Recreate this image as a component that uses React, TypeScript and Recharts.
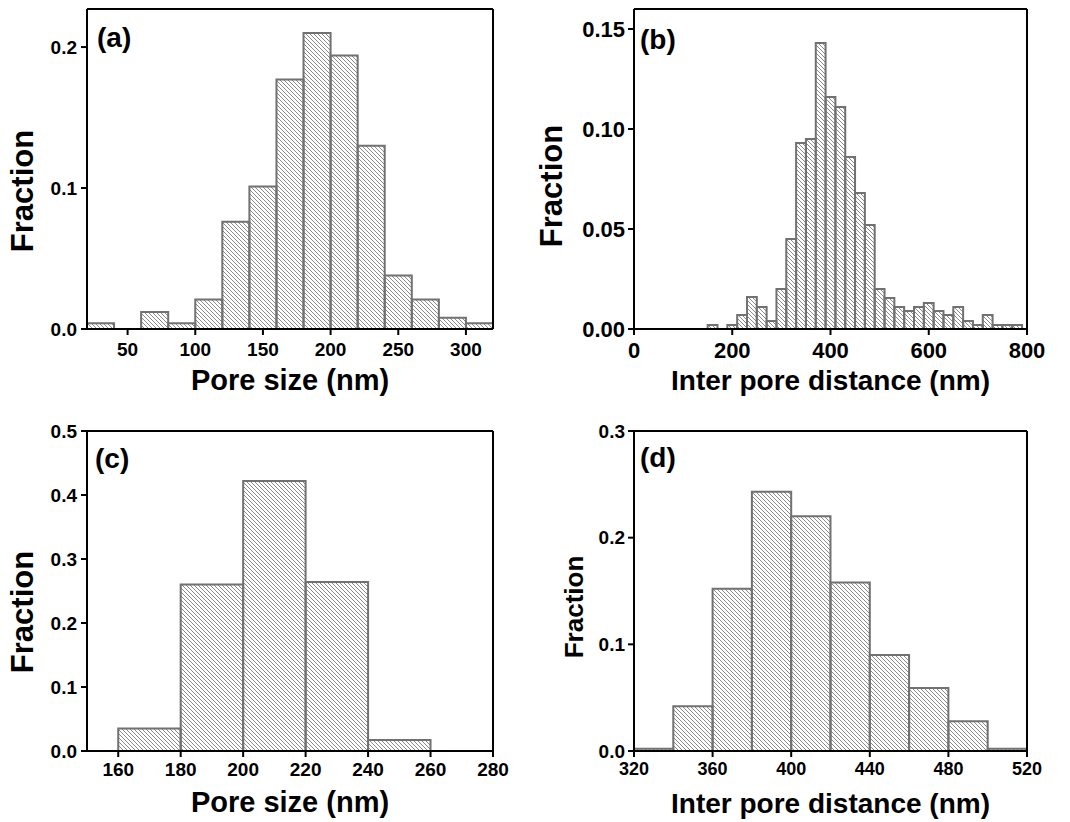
import React from 'react';
import { BarChart, Bar, XAxis, YAxis } from 'recharts';

// ---------- data ----------
// (a) pore size histogram, bin centres (nm), 20 nm bins
const poreBinsA = [30, 50, 70, 90, 110, 130, 150, 170, 190, 210, 230, 250, 270, 290, 310];
const poreFracA = [0.004, 0, 0.012, 0.004, 0.021, 0.076, 0.101, 0.177, 0.21, 0.194, 0.13, 0.038, 0.021, 0.008, 0.004];
const xTicksA = [50, 100, 150, 200, 250, 300];
const yTicksA = [0, 0.1, 0.2];

// (b) inter pore distance histogram, bin centres (nm), 20 nm bins
const distBinsB = [160, 180, 200, 220, 240, 260, 280, 300, 320, 340, 360, 380, 400, 420, 440, 460, 480, 500, 520, 540, 560, 580, 600, 620, 640, 660, 680, 700, 720, 740, 760, 780];
const distFracB = [0.002, 0, 0.002, 0.007, 0.016, 0.011, 0.004, 0.02, 0.045, 0.093, 0.095, 0.143, 0.116, 0.111, 0.086, 0.068, 0.052, 0.02, 0.0155, 0.011, 0.009, 0.011, 0.013, 0.009, 0.007, 0.011, 0.004, 0.002, 0.007, 0.002, 0.002, 0.002];
const xTicksB = [0, 200, 400, 600, 800];
const yTicksB = [0, 0.05, 0.1, 0.15];

// (c) pore size histogram
const poreBinsC = [170, 190, 210, 230, 250];
const poreFracC = [0.035, 0.26, 0.422, 0.264, 0.017];
const xTicksC = [160, 180, 200, 220, 240, 260, 280];
const yTicksC = [0, 0.1, 0.2, 0.3, 0.4, 0.5];

// (d) inter pore distance histogram
const distBinsD = [330, 350, 370, 390, 410, 430, 450, 470, 490, 510];
const distFracD = [0.002, 0.042, 0.152, 0.243, 0.22, 0.158, 0.09, 0.059, 0.028, 0.002];
const xTicksD = [320, 360, 400, 440, 480, 520];
const yTicksD = [0, 0.1, 0.2, 0.3];

const FONT = "'Liberation Sans', Arial, Helvetica, sans-serif";

type PanelCfg = {
  id: string;
  left: number;
  top: number;
  w: number;
  h: number;
  plot: { l: number; t: number; r: number; b: number };
  yAxisW: number;
  bins: number[];
  fr: number[];
  binWidth: number;
  xDomain: [number, number];
  yMax: number;
  xTicks: number[];
  yTicks: number[];
  yDec: number;
  xTickFont: number;
  yTickFont: number;
  xTickMargin: number;
  yTickMargin: number;
  label: string;
  labelX: number;
  labelY: number;
  labelSize: number;
  yTitleX: number;
  yTitleY: number;
  yTitleSize: number;
  xTitle: string;
  xTitleY: number;
  xTitleSize: number;
  rightTicks?: number[];
};

const panels: PanelCfg[] = [
  {
    id: 'a', left: 0, top: 0, w: 535, h: 411,
    plot: { l: 87, t: 9, r: 493, b: 329 }, yAxisW: 77,
    bins: poreBinsA, fr: poreFracA, binWidth: 20,
    xDomain: [20, 320], yMax: 0.227, xTicks: xTicksA, yTicks: yTicksA, yDec: 1,
    xTickFont: 19, yTickFont: 19, xTickMargin: 8, yTickMargin: 4,
    label: '(a)', labelX: 97, labelY: 47, labelSize: 28,
    yTitleX: 33, yTitleY: 191, yTitleSize: 31,
    xTitle: 'Pore size (nm)', xTitleY: 390, xTitleSize: 29,
    rightTicks: [0.1, 0.2],
  },
  {
    id: 'b', left: 535, top: 0, w: 535, h: 411,
    plot: { l: 99, t: 9, r: 492, b: 329 }, yAxisW: 89,
    bins: distBinsB, fr: distFracB, binWidth: 20,
    xDomain: [0, 800], yMax: 0.16, xTicks: xTicksB, yTicks: yTicksB, yDec: 2,
    xTickFont: 22, yTickFont: 22, xTickMargin: 7, yTickMargin: 3,
    label: '(b)', labelX: 105, labelY: 49, labelSize: 28,
    yTitleX: 27, yTitleY: 186, yTitleSize: 31,
    xTitle: 'Inter pore distance (nm)', xTitleY: 390, xTitleSize: 28,
  },
  {
    id: 'c', left: 0, top: 411, w: 535, h: 411,
    plot: { l: 87, t: 20, r: 493, b: 340 }, yAxisW: 77,
    bins: poreBinsC, fr: poreFracC, binWidth: 20,
    xDomain: [150, 280], yMax: 0.5, xTicks: xTicksC, yTicks: yTicksC, yDec: 1,
    xTickFont: 19, yTickFont: 19, xTickMargin: 6, yTickMargin: 4,
    label: '(c)', labelX: 95, labelY: 57, labelSize: 28,
    yTitleX: 33, yTitleY: 201, yTitleSize: 31,
    xTitle: 'Pore size (nm)', xTitleY: 401, xTitleSize: 29,
  },
  {
    id: 'd', left: 535, top: 411, w: 535, h: 411,
    plot: { l: 99, t: 20, r: 492, b: 340 }, yAxisW: 89,
    bins: distBinsD, fr: distFracD, binWidth: 20,
    xDomain: [320, 520], yMax: 0.3, xTicks: xTicksD, yTicks: yTicksD, yDec: 1,
    xTickFont: 18, yTickFont: 19, xTickMargin: 5, yTickMargin: 3,
    label: '(d)', labelX: 105, labelY: 56, labelSize: 28,
    yTitleX: 48, yTitleY: 196, yTitleSize: 26,
    xTitle: 'Inter pore distance (nm)', xTitleY: 402, xTitleSize: 28,
  },
];

function Panel({ p }: { p: PanelCfg }) {
  const data = p.bins.map((x, i) => ({ x, f: p.fr[i] }));
  const plotW = p.plot.r - p.plot.l;
  const binPx = (plotW * p.binWidth) / (p.xDomain[1] - p.xDomain[0]) - 0.01;
  const xAxisH = 40;
  const margin = {
    top: p.plot.t - 1,
    right: p.w - p.plot.r - 1,
    bottom: p.h - p.plot.b - xAxisH,
    left: p.plot.l - p.yAxisW,
  };
  const axisStyle = { stroke: '#000', strokeWidth: 2 };
  const hatchId = `hatch-${p.id}`;
  const cx = (p.plot.l + p.plot.r) / 2;
  const textStyle = { fontFamily: FONT, fontWeight: 700, fill: '#000' };
  return (
    <div style={{ position: 'absolute', left: p.left, top: p.top, width: p.w, height: p.h }}>
      <BarChart width={p.w} height={p.h} data={data} margin={margin}>
        <defs>
          <pattern id={hatchId} patternUnits="userSpaceOnUse" width={4} height={4}>
            <path d="M-1,-1 L5,5 M-1,3 L1,5 M3,-1 L5,1" stroke="#8a8a8a" strokeWidth={1} />
          </pattern>
        </defs>
        <Bar
          xAxisId="bottom"
          yAxisId="left"
          dataKey="f"
          fill={`url(#${hatchId})`}
          stroke="#717171"
          strokeWidth={2}
          barSize={binPx}
          isAnimationActive={false}
        />
        <XAxis
          xAxisId="bottom"
          dataKey="x"
          type="number"
          domain={p.xDomain}
          allowDataOverflow
          ticks={p.xTicks}
          interval={0}
          height={xAxisH}
          tickSize={6}
          tickMargin={p.xTickMargin}
          axisLine={axisStyle}
          tickLine={axisStyle}
          tick={{ ...textStyle, fontSize: p.xTickFont }}
        />
        <XAxis
          xAxisId="top"
          orientation="top"
          type="number"
          domain={p.xDomain}
          allowDataOverflow
          ticks={p.xTicks}
          height={1}
          tick={false}
          tickLine={false}
          axisLine={axisStyle}
        />
        <YAxis
          yAxisId="left"
          type="number"
          domain={[0, p.yMax]}
          allowDataOverflow
          ticks={p.yTicks}
          interval={0}
          width={p.yAxisW}
          tickSize={6}
          tickMargin={p.yTickMargin}
          tickFormatter={(v: number) => v.toFixed(p.yDec)}
          axisLine={axisStyle}
          tickLine={axisStyle}
          tick={{ ...textStyle, fontSize: p.yTickFont }}
        />
        <YAxis
          yAxisId="right"
          orientation="right"
          type="number"
          domain={[0, p.yMax]}
          allowDataOverflow
          ticks={p.rightTicks ?? p.yTicks}
          interval={0}
          width={1}
          tickSize={-6}
          tick={false}
          tickLine={p.rightTicks ? axisStyle : false}
          axisLine={axisStyle}
        />
        <text x={p.labelX} y={p.labelY} fontSize={p.labelSize} {...textStyle}>
          {p.label}
        </text>
        <text
          transform={`translate(${p.yTitleX},${p.yTitleY}) rotate(-90)`}
          textAnchor="middle"
          fontSize={p.yTitleSize}
          {...textStyle}
        >
          Fraction
        </text>
        <text x={cx} y={p.xTitleY} textAnchor="middle" fontSize={p.xTitleSize} {...textStyle}>
          {p.xTitle}
        </text>
      </BarChart>
    </div>
  );
}

export default function App() {
  return (
    <div style={{ position: 'absolute', left: 0, top: 0, width: 1070, height: 822, background: '#fff' }}>
      {panels.map((p) => (
        <Panel key={p.id} p={p} />
      ))}
    </div>
  );
}
